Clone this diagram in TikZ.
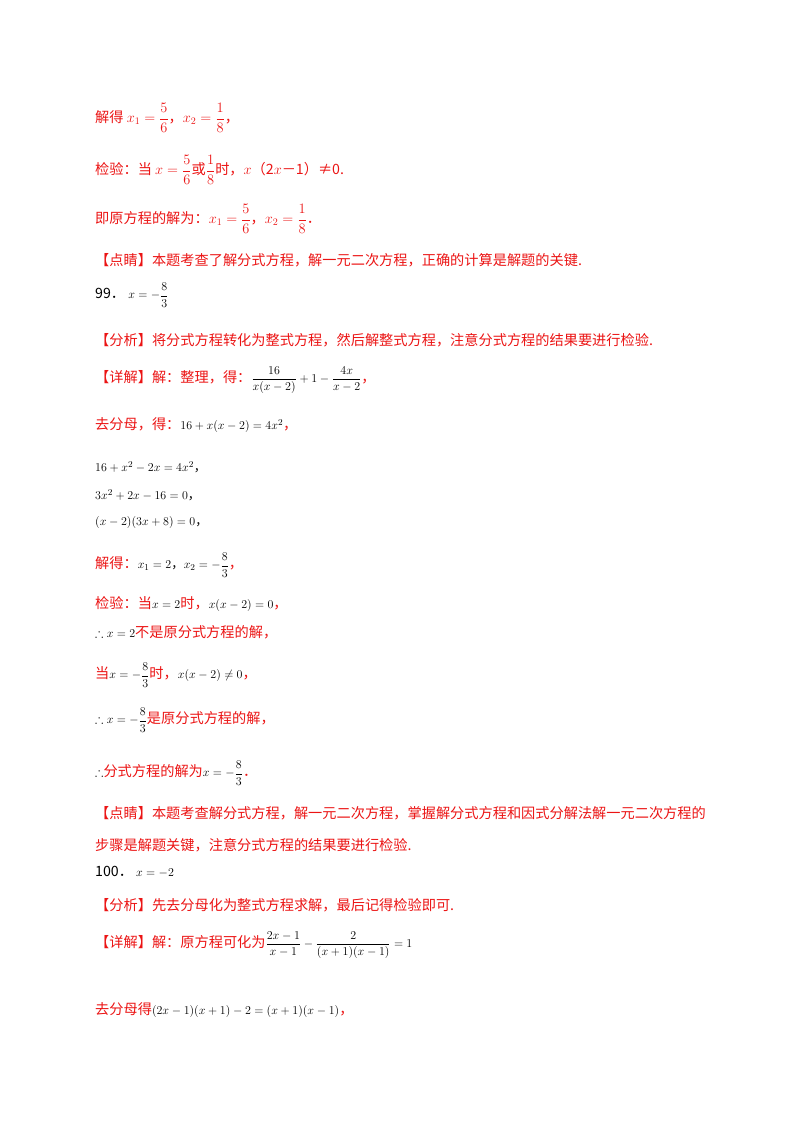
\documentclass[tikz,border=0pt]{standalone}
\usepackage{amsmath,amssymb}
\usepackage{fontspec}
\setmainfont{Noto Sans CJK SC}
\definecolor{rd}{RGB}{235,20,20}
\newcommand\msz{\fontsize{12.5}{14}\selectfont}
\newcommand\ssz{\fontsize{11.5}{13}\selectfont}
\begin{document}
\begin{tikzpicture}[x=1pt,y=1pt,
  ln/.style={anchor=west,inner sep=0pt,text=rd,font=\fontsize{14.2}{16}\selectfont}]
\useasboundingbox (0,0) rectangle (800,-1132);
\node[ln] (l1) at (95,-118) {解得 $x_1=\dfrac56$，$x_2=\dfrac18$，};
\node[ln] (l2) at (95,-170) {检验：当 $x=\dfrac56$或$\dfrac18$时，$x$（2$x$－1）≠0.};
\node[ln] (l3) at (95,-219) {即原方程的解为：$x_1=\dfrac56$，$x_2=\dfrac18$．};
\node[ln] (l4) at (95,-260) {【点睛】本题考查了解分式方程，解一元二次方程，正确的计算是解题的关键.};
\node[ln,text=black] (l5) at (95,-295) {99．\ {\msz$x=-\dfrac83$}};
\node[ln] (l6) at (95,-340) {【分析】将分式方程转化为整式方程，然后解整式方程，注意分式方程的结果要进行检验.};
\node[ln] (l7) at (95,-380) {【详解】解：整理，得：{\color{black}\ssz$\dfrac{16}{x(x-2)}+1-\dfrac{4x}{x-2}$}，};
\node[ln] (l8) at (95,-425) {去分母，得：{\color{black}\msz$16+x(x-2)=4x^2$}，};
\node[ln,text=black] (l9) at (95,-467) {\msz$16+x^2-2x=4x^2$，};
\node[ln,text=black] (l10) at (95,-495) {\msz$3x^2+2x-16=0$，};
\node[ln,text=black] (l11) at (95,-522) {\msz$(x-2)(3x+8)=0$，};
\node[ln] (l12) at (95,-565) {解得：{\color{black}\msz$x_1=2$，$x_2=-\dfrac83$}，};
\node[ln] (l13) at (95,-604) {检验：当{\color{black}\msz$x=2$}时，{\color{black}\msz$x(x-2)=0$}，};
\node[ln] (l14) at (95,-632) {{\color{black}\msz$\therefore x=2$}不是原分式方程的解，};
\node[ln] (l15) at (95,-675) {当{\color{black}\msz$x=-\dfrac83$}时，{\color{black}\msz$x(x-2)\neq0$}，};
\node[ln] (l16) at (95,-720) {{\color{black}\msz$\therefore x=-\dfrac83$}是原分式方程的解，};
\node[ln] (l17) at (95,-773) {{\color{black}\msz$\therefore$}分式方程的解为{\color{black}\msz$x=-\dfrac83$}．};
\node[ln] (l18) at (95,-813) {【点睛】本题考查解分式方程，解一元二次方程，掌握解分式方程和因式分解法解一元二次方程的};
\node[ln] (l19) at (95,-845) {步骤是解题关键，注意分式方程的结果要进行检验.};
\node[ln,text=black] (l20) at (95,-872) {100．\ {\msz$x=-2$}};
\node[ln] (l21) at (95,-905) {【分析】先去分母化为整式方程求解，最后记得检验即可.};
\node[ln] (l22) at (95,-945) {【详解】解：原方程可化为{\color{black}\msz$\dfrac{2x-1}{x-1}-\dfrac{2}{(x+1)(x-1)}=1$}};
\node[ln] (l23) at (95,-1010) {去分母得{\color{black}\msz$(2x-1)(x+1)-2=(x+1)(x-1)$}，};
\end{tikzpicture}
\end{document}
